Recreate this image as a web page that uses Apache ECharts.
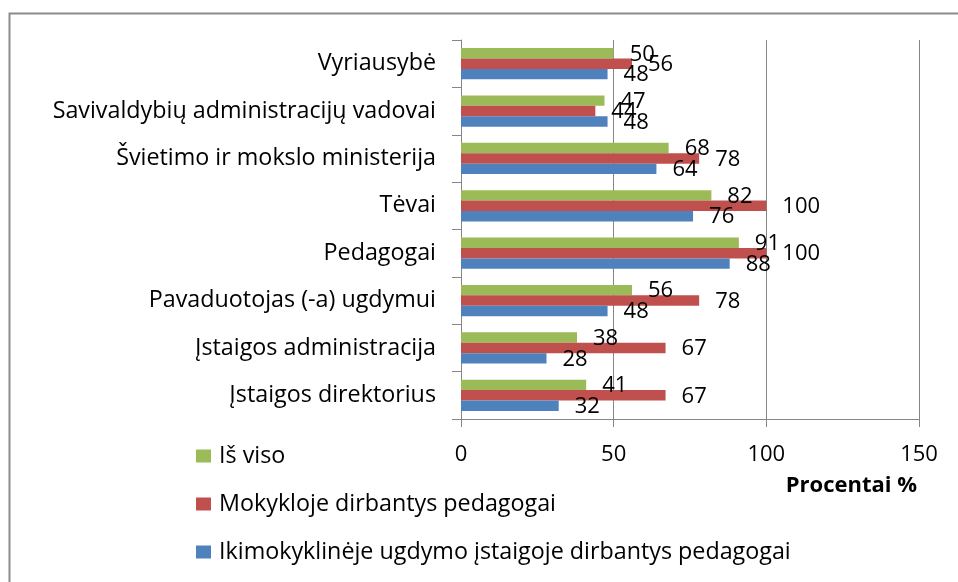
<!DOCTYPE html>
<html>
<head>
<meta charset="utf-8">
<script src="https://cdn.jsdelivr.net/npm/echarts@6/dist/echarts.min.js"></script>
<style>
  html, body { margin: 0; padding: 0; background: #fff; }
  #main { width: 958px; height: 582px; }
</style>
</head>
<body>
<div id="main"></div>
<script>
// kategorijos (iš apačios į viršų)
var categories = [
    'Įstaigos direktorius',
    'Įstaigos administracija',
    'Pavaduotojas (-a) ugdymui',
    'Pedagogai',
    'Tėvai',
    'Švietimo ir mokslo ministerija',
    'Savivaldybių administracijų vadovai',
    'Vyriausybė'
];
var seriesNames = ['Iš viso', 'Mokykloje dirbantys pedagogai', 'Ikimokyklinėje ugdymo įstaigoje dirbantys pedagogai'];
var isViso = [41, 38, 56, 91, 82, 68, 47, 50];
var mokykloje = [67, 67, 78, 100, 100, 78, 44, 56];
var ikimokyklineje = [32, 28, 48, 88, 76, 64, 48, 48];
var xTicks = [0, 50, 100, 150];

var FONT = '"Open Sans", "Liberation Sans", sans-serif';
var GRID_GRAY = '#868686';

var myChart = echarts.init(document.getElementById('main'));

function barSeries(name, data, color) {
    return {
        name: name,
        type: 'bar',
        data: data,
        barWidth: 10.4,
        barGap: '0%',
        itemStyle: { color: color },
        label: {
            show: true,
            position: 'right',
            distance: 16,
            offset: [0, 1],
            color: '#000',
            fontFamily: FONT,
            fontSize: 22
        }
    };
}

var option = {
    animation: false,
    backgroundColor: '#fff',
    grid: {
        left: 461,
        top: 40,
        right: 39,
        bottom: 163
    },
    legend: {
        orient: 'vertical',
        left: 196,
        top: 443,
        padding: 0,
        icon: 'rect',
        itemWidth: 15,
        itemHeight: 13,
        itemGap: 22,
        textStyle: {
            fontFamily: FONT,
            fontSize: 23.3,
            lineHeight: 26,
            color: '#000',
            padding: [0, 0, 0, 3]
        },
        data: seriesNames
    },
    xAxis: {
        type: 'value',
        min: xTicks[0],
        max: xTicks[xTicks.length - 1],
        interval: 50,
        axisLine: { show: true, lineStyle: { color: GRID_GRAY } },
        axisTick: { show: true, length: 8, lineStyle: { color: GRID_GRAY } },
        splitLine: { show: true, lineStyle: { color: GRID_GRAY } },
        axisLabel: {
            margin: 25,
            color: '#000',
            fontFamily: FONT,
            fontSize: 22
        }
    },
    yAxis: {
        type: 'category',
        data: categories,
        axisLine: { show: true, lineStyle: { color: GRID_GRAY } },
        axisTick: { show: true, length: 9, lineStyle: { color: GRID_GRAY } },
        axisLabel: {
            margin: 25,
            color: '#000',
            fontFamily: FONT,
            fontSize: 23.3
        }
    },
    graphic: [
        {
            // rėmelis
            type: 'rect',
            left: 7,
            top: 11,
            shape: { width: 1000, height: 700 },
            style: { fill: 'none', stroke: '#8c8c8c', lineWidth: 2 },
            silent: true
        },
        {
            type: 'text',
            right: 41,
            top: 475,
            style: {
                text: 'Procentai %',
                fill: '#000',
                font: 'bold 22px ' + FONT
            }
        }
    ],
    series: [
        barSeries(seriesNames[0], isViso, '#9BBB59'),
        barSeries(seriesNames[1], mokykloje, '#C0504D'),
        barSeries(seriesNames[2], ikimokyklineje, '#4F81BD')
    ]
};

myChart.setOption(option);
</script>
</body>
</html>
